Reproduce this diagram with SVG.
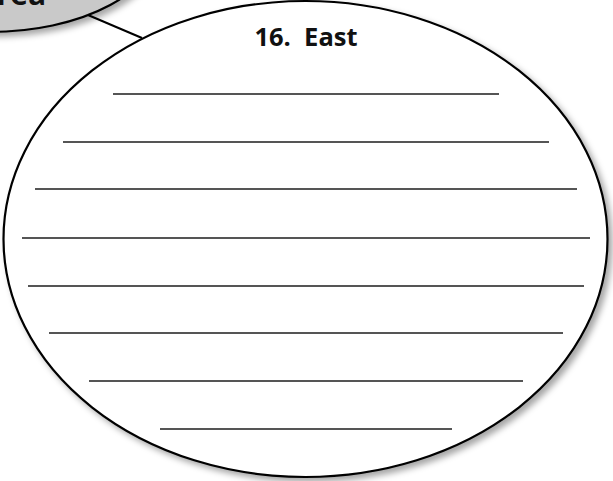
<svg xmlns="http://www.w3.org/2000/svg" width="613" height="481" viewBox="0 0 613 481">
<defs>
<filter id="sh" x="-10%" y="-10%" width="120%" height="120%">
<feDropShadow dx="4" dy="4" stdDeviation="3" flood-color="#000" flood-opacity="0.35"/>
</filter>
<style>
.wl{stroke:#555;stroke-width:2.2;fill:none}
.t{font-family:"Open Sans","Liberation Sans",sans-serif;font-weight:bold;fill:#111}
</style>
</defs>
<rect width="613" height="481" fill="#fff"/>
<g id="connectors">
<line x1="88" y1="15" x2="142" y2="38" stroke="#000" stroke-width="2"/>
</g>
<g id="area">
<ellipse cx="-10" cy="-60" rx="170" ry="92" fill="#c9c9c9" stroke="#000" stroke-width="2.2" filter="url(#sh)"/>
<text class="t" x="46" y="5" font-size="30" text-anchor="end">rea</text>
</g>
<g id="east">
<ellipse cx="305.5" cy="239" rx="302" ry="238" fill="#fff" stroke="#000" stroke-width="2.2" filter="url(#sh)"/>
<text class="t" x="306" y="46" font-size="25.5" text-anchor="middle" xml:space="preserve">16.  East</text>
<line class="wl" x1="113" y1="94" x2="499" y2="94"/>
<line class="wl" x1="63" y1="142" x2="549" y2="142"/>
<line class="wl" x1="35" y1="189" x2="577" y2="189"/>
<line class="wl" x1="22" y1="238" x2="590" y2="238"/>
<line class="wl" x1="28" y1="286" x2="584" y2="286"/>
<line class="wl" x1="49" y1="333" x2="563" y2="333"/>
<line class="wl" x1="89" y1="381" x2="523" y2="381"/>
<line class="wl" x1="160" y1="429" x2="452" y2="429"/>
</g>
</svg>
